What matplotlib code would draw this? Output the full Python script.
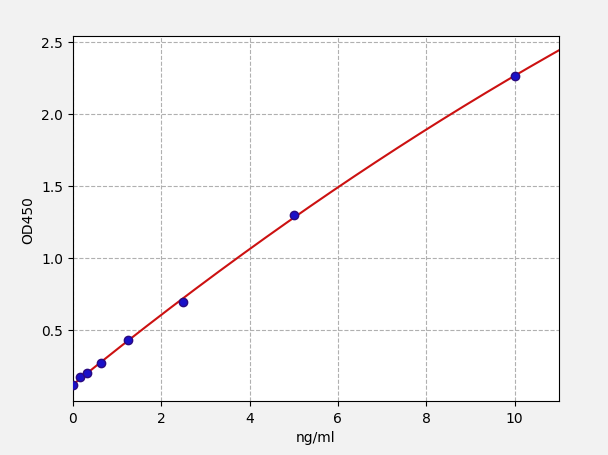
import numpy as np
import matplotlib
matplotlib.use("Agg")
import matplotlib.pyplot as plt

# standard concentrations (ng/ml) and measured OD450
conc = [0, 0.156, 0.3125, 0.625, 1.25, 2.5, 5, 10]
od = [0.12, 0.17, 0.20, 0.27, 0.43, 0.69, 1.30, 2.26]

# fitted standard curve from the points
coef = np.polyfit(conc, od, 2)
xs = np.linspace(0, 11, 200)
ys = np.polyval(coef, xs)

fig = plt.figure(figsize=(6.08, 4.56), dpi=100, facecolor="#f2f2f2")
ax = fig.add_axes([0.120, 0.118, 0.799, 0.801])

ax.plot(xs, ys, color="#cc1111", linewidth=1.5, zorder=2)
ax.scatter(conc, od, s=36, color="#1a10c8", edgecolors="#2a0a80", zorder=3)

ax.set_xlim(0, 11)
ax.set_ylim(0.005, 2.54)
ax.set_xticks([0, 2, 4, 6, 8, 10])
ax.set_yticks([0.5, 1.0, 1.5, 2.0, 2.5])
ax.grid(True, linestyle="--", color="#b0b0b0", linewidth=0.8)
ax.set_xlabel("ng/ml")
ax.set_ylabel("OD450")

plt.savefig("out.png", dpi=100, facecolor=fig.get_facecolor())
